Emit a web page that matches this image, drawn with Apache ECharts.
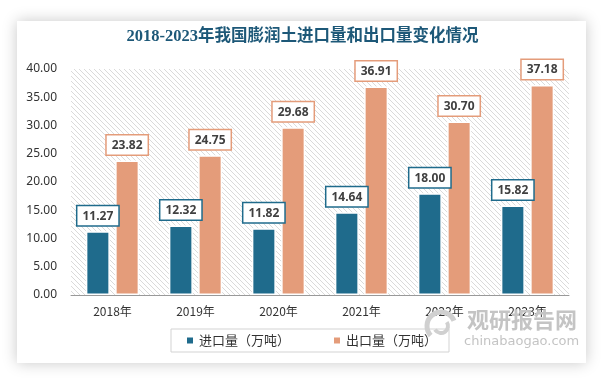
<!DOCTYPE html>
<html><head><meta charset="utf-8">
<script src="https://cdn.jsdelivr.net/npm/echarts@6/dist/echarts.min.js"></script>
<style>html,body{margin:0;padding:0;background:#fff}#c{width:605px;height:380px}</style>
</head><body><div id="c"></div>
<script>
const categories = ['2018年','2019年','2020年','2021年','2022年','2023年'];
const importVals = [11.27, 12.32, 11.82, 14.64, 18.00, 15.82];
const exportVals = [23.82, 24.75, 29.68, 36.91, 30.70, 37.18];
const seriesNames = ['进口量（万吨）','出口量（万吨）'];
const titleText = '2018-2023年我国膨润土进口量和出口量变化情况';

const pc = document.createElement('canvas');
pc.width = 5; pc.height = 5;
const g = pc.getContext('2d');
g.fillStyle = '#ffffff'; g.fillRect(0,0,5,5);
g.strokeStyle = '#dadada'; g.lineWidth = 1;
g.beginPath();
g.moveTo(-1,-1); g.lineTo(6,6);
g.moveTo(-1,4); g.lineTo(1,6);
g.moveTo(4,-1); g.lineTo(6,1);
g.stroke();

const chart = echarts.init(document.getElementById('c'), null, {renderer:'canvas'});
const blue = '#1f6b8c', orange = '#e49c7a';
function lbl(color){
  return {show:true, position:'top', distance:6, formatter:p=>p.value.toFixed(2),
    backgroundColor:'#fff', borderColor:color, borderWidth:1.5, padding:[4,5,3,5],
    color:'#404040', fontSize:12, fontWeight:'bold', fontFamily:'Noto Sans'};
}
chart.setOption({
  backgroundColor:'#ffffff',
  animation:false,
  graphic:[
    {type:'rect', z:-10, shape:{x:17,y:21,width:569,height:342},
     style:{fill:'#fff', shadowBlur:14, shadowColor:'rgba(0,0,0,0.22)'}},
    {type:'text', left:'center', top:28, z:5, style:{text:titleText, fill:'#1d5878',
      font:'bold 16.5px "Liberation Serif", "Noto Sans CJK SC"'}},
    {type:'text', left:467, top:309, z:5, style:{text:'观研报告网', fill:'#c4c4c4',
      font:'bold 22px "Noto Sans CJK SC"'}},
    {type:'text', left:464, top:335, z:5, style:{text:'chinabaogao.com', fill:'#c4c4c4',
      font:'13px "DejaVu Sans"'}},
    {type:'arc', z:5, shape:{cx:441,cy:326,r:14,startAngle:2.4,endAngle:5.9}, style:{stroke:'#d0d0d0',lineWidth:5,fill:null}},
    {type:'arc', z:5, shape:{cx:441,cy:326,r:7,startAngle:-0.6,endAngle:2.6}, style:{stroke:'#d0d0d0',lineWidth:4,fill:null}}
  ],
  grid:{left:71, right:36, top:69, bottom:85, show:true, backgroundColor:{image:pc, repeat:'repeat'}, borderWidth:0},
  legend:{left:171, top:329, width:259, data:seriesNames, icon:'rect', itemWidth:8, itemHeight:8, itemGap:42,
    padding:[5,12,5,14], borderColor:'#d3d3d3', borderWidth:1,
    textStyle:{fontSize:13, color:'#333', fontFamily:'Noto Sans CJK SC'}},
  xAxis:{type:'category', data:categories, axisTick:{show:false},
    axisLine:{lineStyle:{color:'#999'}},
    axisLabel:{fontSize:12, color:'#333', margin:10, fontFamily:'Noto Sans CJK SC'}},
  yAxis:{type:'value', min:0, max:40, interval:5, splitLine:{show:false}, axisLine:{show:false},
    axisLabel:{fontSize:12, color:'#333', margin:14, formatter:v=>v.toFixed(2), fontFamily:'Noto Sans'}},
  series:[
    {name:seriesNames[0], type:'bar', data:importVals, barWidth:24, barGap:'22%',
     itemStyle:{color:blue, borderColor:'#fff', borderWidth:1.5}, label:lbl(blue)},
    {name:seriesNames[1], type:'bar', data:exportVals, barWidth:24,
     itemStyle:{color:orange, borderColor:'#fff', borderWidth:1.5}, label:lbl(orange)}
  ]
});
</script></body></html>
